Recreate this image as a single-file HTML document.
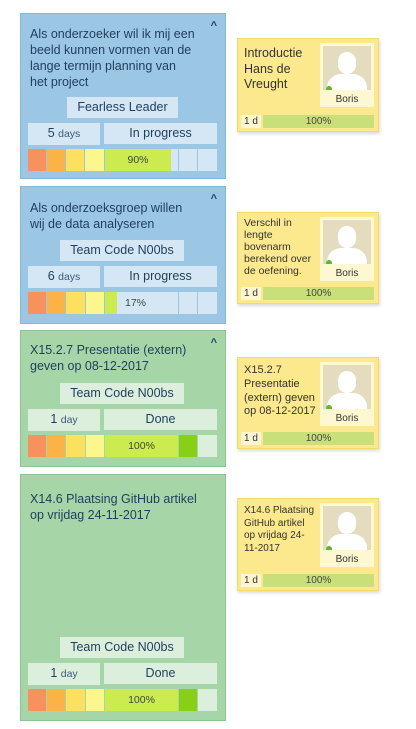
<!DOCTYPE html>
<html><head><meta charset="utf-8"><style>
*{box-sizing:border-box;margin:0;padding:0}
body{width:416px;height:729px;background:#fff;position:relative;overflow:hidden;font-family:"Liberation Sans",sans-serif}
.story{position:absolute;left:20px;width:206px}
.blue{background:#9cc7e4;border:1px solid #86b6d8}
.green{background:#a6d6a8;border:1px solid #8cc48f}
.title{position:absolute;left:9px;top:12px;white-space:nowrap;font-size:12.5px;line-height:16px;color:#1f3d5c}
.caret{position:absolute;right:8px;top:6px;font-size:11px;color:#1f3d5c;font-weight:bold}
.lb{position:absolute;font-size:12.5px;color:#1f3d5c;text-align:center;line-height:21px}
.blue .lb{background:#d5e7f4}
.green .lb{background:#dcefdc}
.sm{font-size:10.5px;color:#3c5a78}
.seg{position:absolute;height:22px;font-size:10.5px;color:#3c4a3c;text-align:center;line-height:22px}
.task{position:absolute;left:237px;width:142px;background:#fce98e;border:1px solid #f3db6a;box-shadow:1px 2px 3px rgba(0,0,0,.15)}
.tt{position:absolute;left:6px;top:5px;white-space:nowrap;color:#333;line-height:1.25}
.av{position:absolute;right:4px;top:4px;width:54px;height:64px;background:#fdf7d2}
.avimg{position:absolute;left:3px;top:3px;width:48px;height:44px;background:#e3dcbf;overflow:hidden}
.head{position:absolute;left:15px;top:6px;width:18px;height:22px;border-radius:9px;background:#fff}
.body{position:absolute;left:4px;top:28px;width:40px;height:20px;border-radius:14px 14px 0 0;background:#fff}
.dot{position:absolute;left:3px;top:40px;width:6px;height:6px;border-radius:3px;background:#62b82d}
.nm{position:absolute;left:0;bottom:2px;width:100%;text-align:center;font-size:10px;color:#333}
.d{position:absolute;left:3px;bottom:3px;width:20px;height:13px;background:#fdf6d0;font-size:10px;color:#333;line-height:13px;text-align:center}
.pb{position:absolute;left:25px;right:4px;bottom:3px;height:13px;background:#c9e07a;font-size:10px;color:#444;line-height:13px;text-align:center}
</style></head><body>

<div class="story blue" style="top:13px;height:166px">
<div class="title">Als onderzoeker wil ik mij een<br>beeld kunnen vormen van de<br>lange termijn planning van<br>het project</div>
<div class="caret">^</div>
<div class="lb" style="left:46px;top:83px;width:111px">Fearless Leader</div>
<div class="lb" style="left:7px;top:109px;width:72px">5 <span class="sm">days</span></div>
<div class="lb" style="left:83px;top:109px;width:113px">In progress</div>
<div class="seg" style="left:7px;top:135px;width:18px;background:#f7925f"></div>
<div class="seg" style="left:26px;top:135px;width:18px;background:#fbb246"></div>
<div class="seg" style="left:45px;top:135px;width:18px;background:#fbe15f"></div>
<div class="seg" style="left:64px;top:135px;width:19px;background:#fbf78c"></div>
<div class="seg" style="left:84px;top:135px;width:66px;background:#cbeb4f">90%</div>
<div class="seg" style="left:150px;top:135px;width:7px;background:#d5e7f4"></div>
<div class="seg" style="left:158px;top:135px;width:18px;background:#d5e7f4"></div>
<div class="seg" style="left:177px;top:135px;width:19px;background:#d5e7f4"></div>
</div>

<div class="story blue" style="top:186px;height:138px">
<div class="title" style="top:13px">Als onderzoeksgroep willen<br>wij de data analyseren</div>
<div class="caret">^</div>
<div class="lb" style="left:39px;top:53px;width:124px">Team Code N00bs</div>
<div class="lb" style="left:7px;top:79px;width:72px">6 <span class="sm">days</span></div>
<div class="lb" style="left:83px;top:79px;width:113px">In progress</div>
<div class="seg" style="left:7px;top:105px;width:18px;background:#f7925f"></div>
<div class="seg" style="left:26px;top:105px;width:18px;background:#fbb246"></div>
<div class="seg" style="left:45px;top:105px;width:19px;background:#fbe15f"></div>
<div class="seg" style="left:65px;top:105px;width:18px;background:#fbf78c"></div>
<div class="seg" style="left:84px;top:105px;width:12px;background:#cbeb4f"></div>
<div class="seg" style="left:96px;top:105px;width:61px;background:#d5e7f4;text-align:left;padding-left:8px">17%</div>
<div class="seg" style="left:158px;top:105px;width:18px;background:#d5e7f4"></div>
<div class="seg" style="left:177px;top:105px;width:19px;background:#d5e7f4"></div>
</div>

<div class="story green" style="top:330px;height:137px">
<div class="title" style="top:11px">X15.2.7 Presentatie (extern)<br>geven op 08-12-2017</div>
<div class="caret">^</div>
<div class="lb" style="left:39px;top:52px;width:124px">Team Code N00bs</div>
<div class="lb" style="left:7px;top:78px;width:72px">1 <span class="sm">day</span></div>
<div class="lb" style="left:83px;top:78px;width:113px">Done</div>
<div class="seg" style="left:7px;top:104px;width:18px;background:#f7925f"></div>
<div class="seg" style="left:26px;top:104px;width:18px;background:#fbb246"></div>
<div class="seg" style="left:45px;top:104px;width:19px;background:#fbe15f"></div>
<div class="seg" style="left:65px;top:104px;width:18px;background:#fbf78c"></div>
<div class="seg" style="left:84px;top:104px;width:73px;background:#cbeb4f">100%</div>
<div class="seg" style="left:158px;top:104px;width:18px;background:#88d018"></div>
<div class="seg" style="left:177px;top:104px;width:19px;background:#dcefdc"></div>
</div>

<div class="story green" style="top:474px;height:247px">
<div class="title" style="top:16px">X14.6 Plaatsing GitHub artikel<br>op vrijdag 24-11-2017</div>
<div class="lb" style="left:39px;top:162px;width:124px">Team Code N00bs</div>
<div class="lb" style="left:7px;top:188px;width:72px">1 <span class="sm">day</span></div>
<div class="lb" style="left:83px;top:188px;width:113px">Done</div>
<div class="seg" style="left:7px;top:214px;width:18px;background:#f7925f"></div>
<div class="seg" style="left:26px;top:214px;width:18px;background:#fbb246"></div>
<div class="seg" style="left:45px;top:214px;width:19px;background:#fbe15f"></div>
<div class="seg" style="left:65px;top:214px;width:18px;background:#fbf78c"></div>
<div class="seg" style="left:84px;top:214px;width:73px;background:#cbeb4f">100%</div>
<div class="seg" style="left:158px;top:214px;width:18px;background:#88d018"></div>
<div class="seg" style="left:177px;top:214px;width:19px;background:#dcefdc"></div>
</div>

<div class="task" style="top:38px;height:94px">
<div class="tt" style="font-size:12.5px;top:7px">Introductie<br>Hans de<br>Vreught</div>
<div class="av"><div class="avimg"><div class="head"></div><div class="body"></div><div class="dot"></div></div><div class="nm">Boris</div></div>
<div class="d">1 d</div>
<div class="pb">100%</div>
</div>

<div class="task" style="top:212px;height:92px">
<div class="tt" style="font-size:10.5px;top:4px;line-height:12px">Verschil in<br>lengte<br>bovenarm<br>berekend over<br>de oefening.</div>
<div class="av"><div class="avimg"><div class="head"></div><div class="body"></div><div class="dot"></div></div><div class="nm">Boris</div></div>
<div class="d">1 d</div>
<div class="pb">100%</div>
</div>

<div class="task" style="top:357px;height:92px">
<div class="tt" style="font-size:11px;top:6px">X15.2.7<br>Presentatie<br>(extern) geven<br>op 08-12-2017</div>
<div class="av"><div class="avimg"><div class="head"></div><div class="body"></div><div class="dot"></div></div><div class="nm">Boris</div></div>
<div class="d">1 d</div>
<div class="pb">100%</div>
</div>

<div class="task" style="top:498px;height:93px">
<div class="tt" style="font-size:10px;top:6px">X14.6 Plaatsing<br>GitHub artikel<br>op vrijdag 24-<br>11-2017</div>
<div class="av"><div class="avimg"><div class="head"></div><div class="body"></div><div class="dot"></div></div><div class="nm">Boris</div></div>
<div class="d">1 d</div>
<div class="pb">100%</div>
</div>

</body></html>
